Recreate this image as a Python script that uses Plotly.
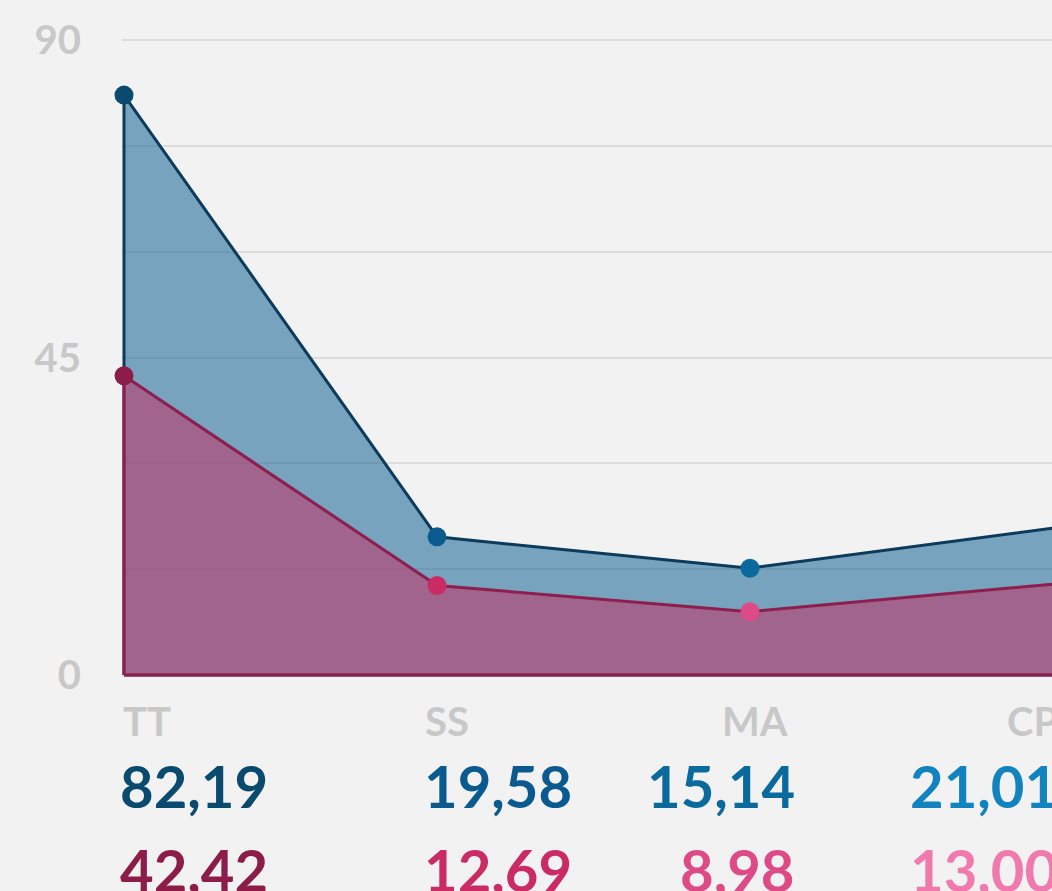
import plotly.graph_objects as go

# Categories and the two measured series
categories = ["TT", "SS", "MA", "CP"]
series_a = [82.19, 19.58, 15.14, 21.01]
series_b = [42.42, 12.69, 8.98, 13.00]
y_ticks = [0, 15, 30, 45, 60, 75, 90]
y_tick_labels = ["0", "", "", "45", "", "", "90"]

# Per-category colour ramps for markers and value labels
colors_a = ["#0a4a6e", "#0b5a8f", "#0a6a9d", "#1183bf"]
colors_b = ["#8c1d48", "#cb2b63", "#dd4a86", "#f07aad"]

BG = "#f2f2f2"
W, H = 1052, 891
M_L, M_R, M_T, M_B = 122, 0, 30, 206
PLOT_W = W - M_L - M_R
PLOT_H = H - M_T - M_B

x_idx = list(range(len(categories)))


def closed_area(values):
    """Polygon from the baseline up through the values and back down."""
    xs = [x_idx[0]] + x_idx + [x_idx[-1], x_idx[0]]
    ys = [0] + list(values) + [0, 0]
    return xs, ys


fig = go.Figure()

ax, ay = closed_area(series_a)
fig.add_trace(go.Scatter(
    x=ax, y=ay, mode="lines", fill="toself",
    fillcolor="rgba(39,110,157,0.6)",
    line=dict(color="#0c3b5b", width=3),
    hoverinfo="skip", showlegend=False,
))

bx, by = closed_area(series_b)
fig.add_trace(go.Scatter(
    x=bx, y=by, mode="lines", fill="toself",
    fillcolor="rgba(187,62,108,0.62)",
    line=dict(color="#8c1f4d", width=3),
    hoverinfo="skip", showlegend=False,
))

# Markers are not clipped so the first one sits whole on the left edge
fig.add_trace(go.Scatter(
    x=x_idx, y=series_a, mode="markers", cliponaxis=False,
    marker=dict(size=19, color=colors_a, line=dict(width=0)),
    showlegend=False,
))
fig.add_trace(go.Scatter(
    x=x_idx, y=series_b, mode="markers", cliponaxis=False,
    marker=dict(size=19, color=colors_b, line=dict(width=0)),
    showlegend=False,
))


def px_x(px):
    return (px - M_L) / PLOT_W


def px_y(py):
    return (H - M_B - py) / PLOT_H


# Column placement of the category captions and value readouts
label_x = [121, 423, 790, 1060]
value_x = [118, 422, 797, 1060]
col_anchor = ["left", "left", "right", "right"]
label_font = dict(family="Lato", size=40, color="#c8c8c8", weight="bold")

annotations = []
for i, cat in enumerate(categories):
    annotations.append(dict(
        x=px_x(label_x[i]), y=px_y(721), xref="paper", yref="paper",
        text=cat, showarrow=False, xanchor=col_anchor[i], yanchor="middle",
        font=label_font,
    ))
    annotations.append(dict(
        x=px_x(value_x[i]), y=px_y(786), xref="paper", yref="paper",
        text=f"{series_a[i]:.2f}".replace(".", ","), showarrow=False,
        xanchor=col_anchor[i], yanchor="middle",
        font=dict(family="Lato", size=58, color=colors_a[i], weight="bold"),
    ))
    annotations.append(dict(
        x=px_x(value_x[i]), y=px_y(869), xref="paper", yref="paper",
        text=f"{series_b[i]:.2f}".replace(".", ","), showarrow=False,
        xanchor=col_anchor[i], yanchor="middle",
        font=dict(family="Lato", size=58, color=colors_b[i], weight="bold"),
    ))

step = 313.0
x_start = -(124 - M_L) / step
x_end = x_start + PLOT_W / step

unit = 635 / 90
y_top = 90 + (40 - M_T) / unit
y_bot = -(H - M_B - 675) / unit

fig.update_layout(
    width=W, height=H,
    margin=dict(l=M_L, r=M_R, t=M_T, b=M_B, pad=0),
    paper_bgcolor=BG, plot_bgcolor=BG,
    xaxis=dict(range=[x_start, x_end], showgrid=False, zeroline=False,
               showticklabels=False, showline=False, fixedrange=True),
    yaxis=dict(range=[y_bot, y_top], tickvals=y_ticks, ticktext=y_tick_labels,
               showgrid=True, gridcolor="#dcdcdc", gridwidth=2,
               zeroline=False, showline=False, ticks="",
               ticklabelstandoff=40,
               tickfont=dict(family="Lato", size=40, color="#c8c8c8",
                             weight="bold"),
               fixedrange=True),
    annotations=annotations,
    showlegend=False,
)

fig.write_html("out.html", config={"displayModeBar": False})
